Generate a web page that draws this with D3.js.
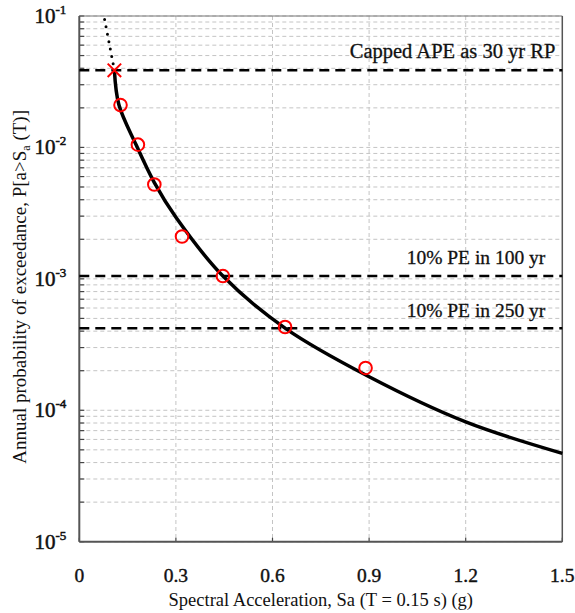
<!DOCTYPE html>
<html lang="en">
<head>
  <meta charset="UTF-8">
  <title>Hazard curve</title>
  <style>
    body { margin: 0; background: #fff; }
    svg { display: block; font-family: "Liberation Serif", "DejaVu Serif", serif; }
  </style>
  <script src="https://d3js.org/d3.v7.min.js"></script>
</head>
<body>
  <svg id="chart"></svg>
  <script>
    // values
    const xTicks = [0, 0.3, 0.6, 0.9, 1.2, 1.5];
    const yTickExps = [-1, -2, -3, -4, -5];

    const hazardSa  = [0.109, 0.123, 0.176, 0.233, 0.30, 0.446, 0.64, 0.90, 1.20, 1.50];
    const hazardAPE = [0.0386, 0.0211, 0.01052, 0.0054, 0.00294, 0.00105, 0.00042, 0.000180, 0.0000816, 0.0000470];

    const extrapSa  = [0.0786, 0.092, 0.109];
    const extrapAPE = [0.094, 0.0637, 0.0386];

    const pointSa  = [0.128, 0.182, 0.233, 0.319, 0.446, 0.639, 0.889];
    const pointAPE = [0.0210, 0.0105, 0.00522, 0.0021, 0.00105, 0.00043, 0.00021];

    const capSa  = [0.109];
    const capAPE = [0.0386];

    const refAPE    = [0.0387, 0.00105, 0.00042];
    const refLabels = ['Capped APE as 30 yr RP', '10% PE in 100 yr', '10% PE in 250 yr'];

    const W = 575, H = 613;
    const margin = { top: 16, right: 12.7, bottom: 71.3, left: 79.3 };
    const iw = W - margin.left - margin.right;
    const ih = H - margin.top - margin.bottom;

    const svg = d3.select('#chart').attr('width', W).attr('height', H);
    const g = svg.append('g').attr('transform', `translate(${margin.left},${margin.top})`);

    const x = d3.scaleLinear().domain([0, 1.5]).range([0, iw]);
    const y = d3.scaleLog().domain([1e-5, 1e-1]).range([ih, 0]);

    // all log ticks 1..9 x 10^k
    const logTicks = [];
    for (let e = -5; e <= -1; e++) {
      for (let m = 1; m <= 9; m++) {
        const v = m * Math.pow(10, e);
        if (v <= 0.1 + 1e-12) logTicks.push(v);
      }
    }

    // grid
    g.append('g')
      .selectAll('line')
      .data(logTicks)
      .join('line')
      .attr('x1', 0).attr('x2', iw)
      .attr('y1', d => y(d)).attr('y2', d => y(d))
      .attr('stroke', '#c4c4c4').attr('stroke-width', 1)
      .attr('stroke-dasharray', '4,3');

    g.append('g')
      .selectAll('line')
      .data(xTicks.slice(1, -1))
      .join('line')
      .attr('x1', d => x(d)).attr('x2', d => x(d))
      .attr('y1', 0).attr('y2', ih)
      .attr('stroke', '#c4c4c4').attr('stroke-width', 1)
      .attr('stroke-dasharray', '4,3');

    // left ticks (inward)
    g.append('g')
      .selectAll('line')
      .data(logTicks)
      .join('line')
      .attr('x1', 0).attr('x2', 5)
      .attr('y1', d => y(d)).attr('y2', d => y(d))
      .attr('stroke', '#444').attr('stroke-width', 1.2);

    // bottom ticks (inward)
    g.append('g')
      .selectAll('line')
      .data(xTicks)
      .join('line')
      .attr('x1', d => x(d)).attr('x2', d => x(d))
      .attr('y1', ih).attr('y2', ih - 4)
      .attr('stroke', '#444').attr('stroke-width', 1.2);

    // frame
    g.append('line').attr('x1', 0).attr('x2', iw).attr('y1', 0).attr('y2', 0)
      .attr('stroke', '#777').attr('stroke-width', 1);
    g.append('line').attr('x1', iw).attr('x2', iw).attr('y1', 0).attr('y2', ih)
      .attr('stroke', '#555').attr('stroke-width', 1.5);
    g.append('line').attr('x1', 0).attr('x2', 0).attr('y1', 0).attr('y2', ih)
      .attr('stroke', '#555').attr('stroke-width', 2);
    g.append('line').attr('x1', 0).attr('x2', iw).attr('y1', ih).attr('y2', ih)
      .attr('stroke', '#555').attr('stroke-width', 2);

    // reference levels
    g.append('g')
      .selectAll('line')
      .data(refAPE)
      .join('line')
      .attr('x1', 0).attr('x2', iw)
      .attr('y1', d => y(d)).attr('y2', d => y(d))
      .attr('stroke', '#000').attr('stroke-width', 2.5)
      .attr('stroke-dasharray', '10,6');

    const refOffsets = [-12, -12, -11];
    const refRight = [iw - 7, iw - 17, iw - 17];
    const refSize = [20.5, 19.5, 19.5];
    g.append('g')
      .selectAll('text')
      .data(refLabels)
      .join('text')
      .attr('x', (d, i) => refRight[i])
      .attr('y', (d, i) => y(refAPE[i]) + refOffsets[i])
      .attr('text-anchor', 'end')
      .attr('font-size', (d, i) => refSize[i])
      .attr('fill', '#111')
      .attr('stroke', '#111').attr('stroke-width', 0.3)
      .text(d => d);

    // hazard curve
    const line = d3.line()
      .x(d => x(d[0])).y(d => y(d[1]))
      .curve(d3.curveCatmullRom.alpha(0.5));

    g.append('path')
      .datum(extrapSa.map((v, i) => [v, extrapAPE[i]]))
      .attr('d', line)
      .attr('fill', 'none')
      .attr('stroke', '#000').attr('stroke-width', 3)
      .attr('stroke-linecap', 'round')
      .attr('stroke-dasharray', '0,7.5');

    g.append('path')
      .datum(hazardSa.map((v, i) => [v, hazardAPE[i]]))
      .attr('d', line)
      .attr('fill', 'none')
      .attr('stroke', '#000').attr('stroke-width', 3.5);

    // data points
    g.append('g')
      .selectAll('circle')
      .data(pointSa.map((v, i) => [v, pointAPE[i]]))
      .join('circle')
      .attr('cx', d => x(d[0])).attr('cy', d => y(d[1]))
      .attr('r', 6.3)
      .attr('fill', 'none')
      .attr('stroke', '#ff0000').attr('stroke-width', 2);

    const cross = d3.symbol().type(d3.symbolX).size(120);
    g.append('g')
      .selectAll('path')
      .data(capSa.map((v, i) => [v, capAPE[i]]))
      .join('path')
      .attr('transform', d => `translate(${x(d[0])},${y(d[1])})`)
      .attr('d', cross)
      .attr('fill', 'none')
      .attr('stroke', '#ff0000').attr('stroke-width', 2);

    // x tick labels
    g.append('g')
      .selectAll('text')
      .data(xTicks)
      .join('text')
      .attr('x', d => x(d))
      .attr('y', ih + 40)
      .attr('text-anchor', 'middle')
      .attr('font-size', 19.5)
      .attr('fill', '#111')
      .attr('stroke', '#111').attr('stroke-width', 0.4)
      .text(d => d3.format('')(d));

    // y tick labels
    const yl = g.append('g')
      .selectAll('text')
      .data(yTickExps)
      .join('text')
      .attr('x', -13)
      .attr('y', d => y(Math.pow(10, d)) + 7)
      .attr('text-anchor', 'end')
      .attr('font-size', 21)
      .attr('fill', '#111')
      .attr('stroke', '#111').attr('stroke-width', 0.5);
    yl.append('tspan').text('10');
    yl.append('tspan').attr('dy', -9).attr('font-size', 13).text(d => '-' + Math.abs(d));

    // axis titles
    svg.append('text')
      .attr('x', margin.left + iw / 2)
      .attr('y', 606)
      .attr('text-anchor', 'middle')
      .attr('font-size', 18.5)
      .attr('fill', '#111')
      .text('Spectral Acceleration, Sa (T = 0.15 s) (g)');

    const yt = svg.append('text')
      .attr('transform', `translate(26,${margin.top + ih / 2 + 8}) rotate(-90)`)
      .attr('text-anchor', 'middle')
      .attr('font-size', 19)
      .attr('fill', '#111');
    yt.append('tspan').text('Annual probability of exceedance, P[a>S');
    yt.append('tspan').attr('font-size', 12).attr('dy', 4).text('a');
    yt.append('tspan').attr('dy', -4).text(' (T)]');
  </script>
</body>
</html>
